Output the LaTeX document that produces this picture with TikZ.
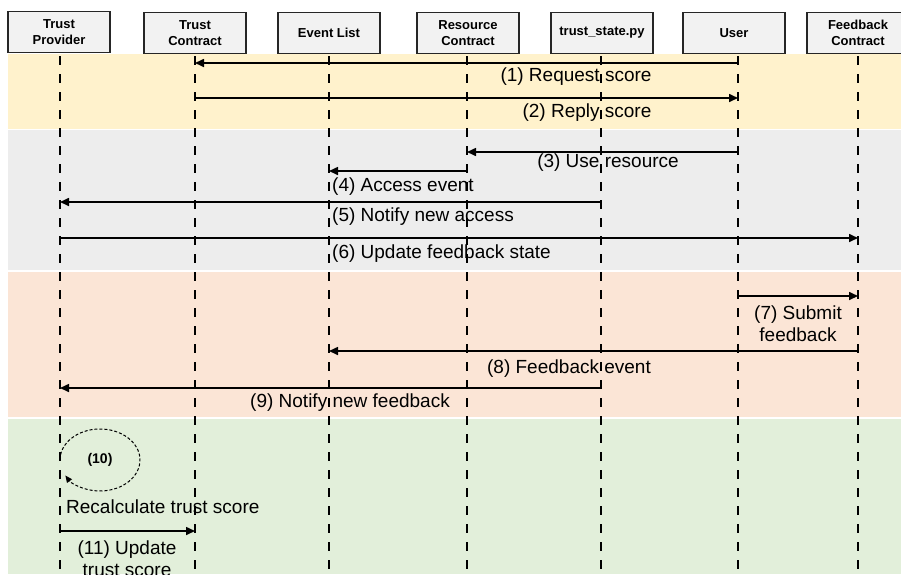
\documentclass[tikz,border=0pt]{standalone}
\usepackage{fontspec}
\setmainfont{Liberation Sans}
\usetikzlibrary{arrows.meta,calc}
\definecolor{bandY}{HTML}{FFF2CC}
\definecolor{bandG}{HTML}{EDEDED}
\definecolor{bandS}{HTML}{FBE5D6}
\definecolor{bandN}{HTML}{E2EFDA}
\definecolor{boxgray}{HTML}{F2F2F2}
\begin{document}
\begin{tikzpicture}[x=1pt,y=-1pt,
  head/.style={draw=black!85, fill=boxgray, line width=1.4pt, minimum width=102pt, minimum height=41pt, inner sep=0pt, align=center, font=\fontsize{13}{16}\selectfont\bfseries},
  life/.style={line width=2pt, dash pattern=on 9pt off 9pt},
  msg/.style={line width=1.6pt, -{Triangle[length=9pt,width=8pt]}},
  lbl/.style={font=\fontsize{19}{22}\selectfont, inner sep=0pt, align=center}]
\useasboundingbox (0,0) rectangle (901,574);
\clip (0,0) rectangle (901,574);
% bands
\fill[bandY] (8,54) rectangle (901,129);
\fill[bandG] (8,130) rectangle (901,270);
\fill[bandS] (8,272) rectangle (901,417);
\fill[bandN] (8,419) rectangle (901,574);
% heads
\node[head] (tp) at (59,32) {Trust\\Provider};
\node[head] (tc) at (195,33) {Trust\\Contract};
\node[head] (el) at (329,33) {Event List};
\node[head] (rc) at (468,33) {Resource\\Contract};
\node[head] (ts) at (602,33) {trust\_state.py};
\node[head] (us) at (734,33) {User};
\node[head] (fc) at (858,33) {Feedback\\Contract};
% lifelines
\foreach \n/\xx in {tp/60,tc/195,el/329,rc/467,ts/601,us/738,fc/858}{
  \draw[life] (\xx,56) -- (\xx,574);
}
% messages
\coordinate (xtp) at (60,0);
\coordinate (xtc) at (195,0);
\coordinate (xel) at (329,0);
\coordinate (xrc) at (467,0);
\coordinate (xts) at (601,0);
\coordinate (xus) at (738,0);
\coordinate (xfc) at (858,0);
\draw[msg] (xus |- 0,63) -- (xtc |- 0,63);
\draw[msg] (xtc |- 0,98) -- (xus |- 0,98);
\draw[msg] (xus |- 0,152) -- (xrc |- 0,152);
\draw[msg] (xrc |- 0,171) -- (xel |- 0,171);
\draw[msg] (xts |- 0,202) -- (xtp |- 0,202);
\draw[msg] (xtp |- 0,238) -- (xfc |- 0,238);
\draw[msg] (xus |- 0,296) -- (xfc |- 0,296);
\draw[msg] (xfc |- 0,351) -- (xel |- 0,351);
\draw[msg] (xts |- 0,388) -- (xtp |- 0,388);
\draw[msg] (xtp |- 0,531) -- (xtc |- 0,531);
% self loop
\node[font=\fontsize{14}{16}\selectfont\bfseries, inner sep=0pt] (n10) at (100,460) {(10)};
\draw[line width=1pt, dash pattern=on 3pt off 2pt, -{Triangle[length=7pt,width=6pt]}]
  ($(n10.center)+(-39.4,-5.4)$) arc[start angle=-170, end angle=150, x radius=40, y radius=31];
% labels
\node[lbl] (l1) at (576,77) {(1) Request score};
\node[lbl] (l2) at (587,113) {(2) Reply score};
\node[lbl] (l3) at (608,163) {(3) Use resource};
\node[lbl, anchor=west] (l4) at (332,187) {(4) Access event};
\node[lbl, anchor=west] (l5) at (332,217) {(5) Notify new access};
\node[lbl, anchor=west] (l6) at (332,254) {(6) Update feedback state};
\node[lbl] (l7) at (798,324) {(7) Submit\\feedback};
\node[lbl] (l8) at (569,369) {(8) Feedback event};
\node[lbl] (l9) at (350,403) {(9) Notify new feedback};
\node[lbl, anchor=west] (lr) at (66,507) {Recalculate trust score};
\node[lbl] (l11) at (127,559) {(11) Update\\trust score};
\end{tikzpicture}
\end{document}
